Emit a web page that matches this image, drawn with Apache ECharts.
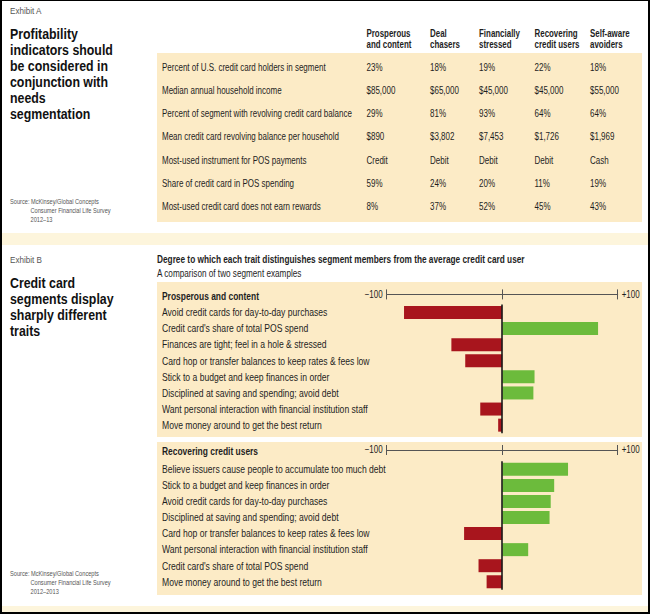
<!DOCTYPE html>
<html><head><meta charset="utf-8">
<script src="https://cdn.jsdelivr.net/npm/echarts@6/dist/echarts.min.js"></script>
<style>html,body{margin:0;padding:0;background:#fff}#c{width:650px;height:614px}</style>
</head><body><div id="c"></div>
<script>
// ---------- DATA ----------
const segmentHeaders = [['Prosperous','and content'],['Deal','chasers'],['Financially','stressed'],['Recovering','credit users'],['Self-aware','avoiders']];
const tableRowLabels = [
  'Percent of U.S. credit card holders in segment',
  'Median annual household income',
  'Percent of segment with revolving credit card balance',
  'Mean credit card revolving balance per household',
  'Most-used instrument for POS payments',
  'Share of credit card in POS spending',
  'Most-used credit card does not earn rewards'
];
const rowCreditHolders = ['23%','18%','19%','22%','18%'];
const rowIncome = ['$85,000','$65,000','$45,000','$45,000','$55,000'];
const rowRevolvingPct = ['29%','81%','93%','64%','64%'];
const rowRevolvingBalance = ['$890','$3,802','$7,453','$1,726','$1,969'];
const rowInstrument = ['Credit','Debit','Debit','Debit','Cash'];
const rowCreditShare = ['59%','24%','20%','11%','19%'];
const rowNoRewards = ['8%','37%','52%','45%','43%'];

const prosperousTraits = [
  'Avoid credit cards for day-to-day purchases',
  "Credit card's share of total POS spend",
  'Finances are tight; feel in a hole & stressed',
  'Card hop or transfer balances to keep rates & fees low',
  'Stick to a budget and keep finances in order',
  'Disciplined at saving and spending; avoid debt',
  'Want personal interaction with financial institution staff',
  'Move money around to get the best return'
];
const prosperousValues = [-85, 83, -44, -32, 28, 27, -19, -3.5];

const recoveringTraits = [
  'Believe issuers cause people to accumulate too much debt',
  'Stick to a budget and keep finances in order',
  'Avoid credit cards for day-to-day purchases',
  'Disciplined at saving and spending; avoid debt',
  'Card hop or transfer balances to keep rates & fees low',
  'Want personal interaction with financial institution staff',
  "Credit card's share of total POS spend",
  'Move money around to get the best return'
];
const recoveringValues = [57, 45, 42, 41, -33, 22.5, -20.5, -13.5];

const axisMin = -100, axisMax = 100, axisInterval = 100;
const axisEndLabels = ['\u2212100', '+100'];

// ---------- STYLE ----------
const FONT = '"Liberation Sans", Arial, sans-serif';
const TAN = '#fcebc6', PALE = '#fdf5dc', RED = '#a8151d', GREEN = '#6cbb3c', TXT = '#1e1e1e';

// horizontal condensing factors, measured from one sample string per text style
const mctx = document.createElement('canvas').getContext('2d');
function condense(sample, size, bold, target) {
  mctx.font = (bold ? 'bold ' : '') + size + 'px ' + FONT;
  return target / mctx.measureText(sample).width;
}
const S_BODY = condense('Percent of segment with revolving credit card balance', 10, false, 190);
const S_TRAIT = condense('Want personal interaction with financial institution staff', 10.5, false, 206);
const S_HEAD = condense('Financially', 10, true, 41);
const S_PANEL = condense('Prosperous and content', 10.3, true, 97);
const S_TITLE = condense('indicators should', 15.5, true, 103);
const S_SUB = condense('Degree to which each trait distinguishes segment members from the average credit card user', 10, true, 368);
const S_SUB2 = condense('A comparison of two segment examples', 10, false, 145);
const S_SRC = condense('Source: McKinsey/Global Concepts', 7, false, 89);
const S_EXH = condense('Exhibit A', 8.5, false, 32);

const tableRows = [rowCreditHolders, rowIncome, rowRevolvingPct, rowRevolvingBalance, rowInstrument, rowCreditShare, rowNoRewards];
const colX = [366.5, 430, 479, 534.5, 590];
const rowY0 = 67.7, rowStep = 23.15;

const panels = [
  {name: 'Prosperous and content', traits: prosperousTraits, values: prosperousValues, top: 304.4, height: 128.8, axisOffset: 10, box: [282, 437]},
  {name: 'Recovering credit users', traits: recoveringTraits, values: recoveringValues, top: 461.3, height: 128.5, axisOffset: 11.3, box: [442, 595]}
];
const gridLeft = 386.7, gridRight = 32.3, labelX = 162;

const chart = echarts.init(document.getElementById('c'), null, {renderer: 'svg'});

const grids = [], xAxes = [], yAxes = [], series = [];
panels.forEach((p, i) => {
  grids.push({left: gridLeft, right: gridRight, top: p.top, height: p.height});
  const axBase = {gridIndex: i, type: 'value', min: axisMin, max: axisMax, interval: axisInterval, position: 'top', offset: p.axisOffset,
    splitLine: {show: false}, axisLabel: {show: false}};
  xAxes.push(Object.assign({}, axBase, {axisLine: {show: true, lineStyle: {color: '#555', width: 1}}, axisTick: {show: true, length: 5, lineStyle: {color: '#555'}}}));
  xAxes.push(Object.assign({}, axBase, {axisLine: {show: false}, axisTick: {show: true, inside: true, length: 5, lineStyle: {color: '#555'}}}));
  yAxes.push({gridIndex: i, type: 'category', inverse: true, data: p.traits,
    axisLine: {show: false}, axisTick: {show: false}, splitLine: {show: false}, axisLabel: {show: false}});
  series.push({type: 'bar', xAxisIndex: i * 2, yAxisIndex: i, data: p.values, barWidth: 13, z: 2,
    itemStyle: {color: (d) => d.value >= 0 ? GREEN : RED},
    markLine: {silent: true, symbol: 'none', label: {show: false}, lineStyle: {color: '#1a1a1a', width: 1.6, type: 'solid'}, data: [{xAxis: 0}]}});
});

chart.setOption({animation: false, grid: grids, xAxis: xAxes, yAxis: yAxes, series: series});

// ---------- TEXT & BOXES ----------
const g = [];
function txt(text, x, y, size, opts) {
  opts = opts || {};
  g.push({type: 'text', z: 10, silent: true, x: x, y: y, scaleX: opts.scale || 1,
    style: {text: text, x: 0, y: 0,
      font: (opts.bold ? 'bold ' : '') + size + 'px ' + FONT, fill: opts.color || TXT,
      textAlign: opts.align || 'left', textVerticalAlign: 'middle'}});
}
function rect(x, y, w, h, fill, z) {
  g.push({type: 'rect', z: z == null ? -1 : z, silent: true, shape: {x: x, y: y, width: w, height: h}, style: {fill: fill}});
}

// backgrounds
rect(157, 53, 485, 169, TAN);
rect(2, 233, 646, 12, PALE);
rect(2, 606, 646, 6, PALE);
panels.forEach(p => rect(157, p.box[0], 485, p.box[1] - p.box[0], TAN));
// frame
rect(0, 0, 650, 1, '#000', 20);
rect(0, 0, 2, 614, '#000', 20);
rect(648, 0, 2, 614, '#000', 20);
rect(0, 612, 650, 2, '#000', 20);

// Exhibit A
txt('Exhibit A', 10, 11, 8.5, {color: '#555', scale: S_EXH});
['Profitability', 'indicators should', 'be considered in', 'conjunction with', 'needs', 'segmentation']
  .forEach((l, i) => txt(l, 10, 33 + i * 16.1, 15.5, {bold: true, color: '#111', scale: S_TITLE}));
txt('Source: McKinsey/Global Concepts', 10, 201.5, 7, {color: '#555', scale: S_SRC});
txt('Consumer Financial Life Survey', 30.5, 210.5, 7, {color: '#555', scale: S_SRC});
txt('2012\u201313', 30.5, 219.5, 7, {color: '#555', scale: S_SRC});

segmentHeaders.forEach((h, c) => {
  txt(h[0], colX[c], 34, 10, {bold: true, scale: S_HEAD});
  txt(h[1], colX[c], 44.3, 10, {bold: true, scale: S_HEAD});
});
tableRowLabels.forEach((l, r) => {
  const y = rowY0 + r * rowStep;
  txt(l, labelX, y, 10, {scale: S_BODY});
  tableRows[r].forEach((v, c) => txt(v, colX[c], y, 10, {scale: S_BODY}));
});

// Exhibit B
txt('Exhibit B', 10, 259.5, 8.5, {color: '#555', scale: S_EXH});
['Credit card', 'segments display', 'sharply different', 'traits']
  .forEach((l, i) => txt(l, 10, 282.5 + i * 16.1, 15.5, {bold: true, color: '#111', scale: S_TITLE}));
txt('Source: McKinsey/Global Concepts', 10, 573.5, 7, {color: '#555', scale: S_SRC});
txt('Consumer Financial Life Survey', 30.5, 582.5, 7, {color: '#555', scale: S_SRC});
txt('2012\u20132013', 30.5, 591.5, 7, {color: '#555', scale: S_SRC});

txt('Degree to which each trait distinguishes segment members from the average credit card user', 157, 260, 10, {bold: true, scale: S_SUB});
txt('A comparison of two segment examples', 157, 273.5, 10, {scale: S_SUB2});

panels.forEach((p, i) => {
  const axisY = p.top - p.axisOffset;
  txt(p.name, labelX, axisY + 1.5, 10.3, {bold: true, scale: S_PANEL});
  p.traits.forEach((t, k) => {
    const y = chart.convertToPixel({yAxisIndex: i}, k);
    txt(t, labelX, y, 10.5, {scale: S_TRAIT});
  });
  const xl = chart.convertToPixel({xAxisIndex: i * 2}, axisMin);
  const xr = chart.convertToPixel({xAxisIndex: i * 2}, axisMax);
  txt(axisEndLabels[0], xl - 4, axisY, 10, {align: 'right', scale: S_BODY});
  txt(axisEndLabels[1], xr + 4, axisY, 10, {scale: S_BODY});
});

chart.setOption({graphic: {elements: g}});
</script></body></html>
